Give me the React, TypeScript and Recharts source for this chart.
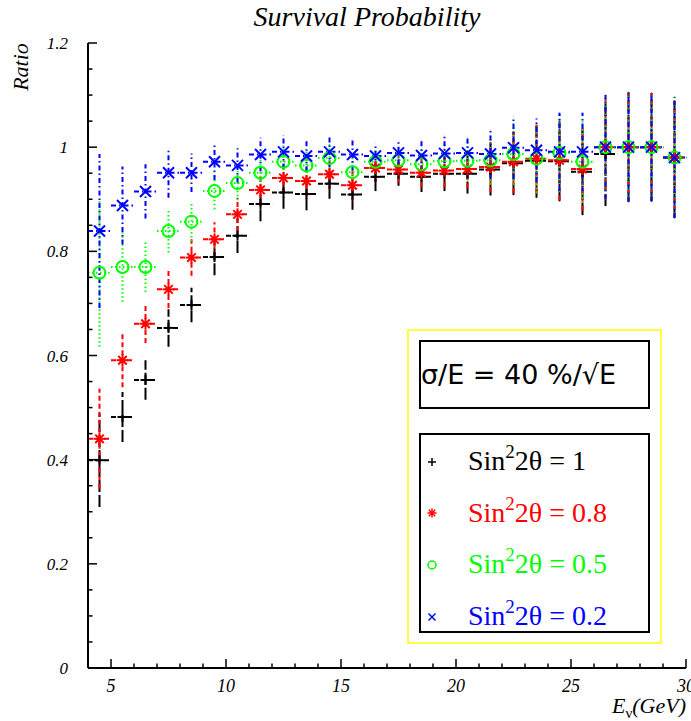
import React from 'react';
import { ScatterChart, Scatter, XAxis, YAxis, ErrorBar } from 'recharts';

// bin centres (GeV) and half bin width
const energies = [4.5, 5.5, 6.5, 7.5, 8.5, 9.5, 10.5, 11.5, 12.5, 13.5, 14.5, 15.5, 16.5, 17.5, 18.5, 19.5, 20.5, 21.5, 22.5, 23.5, 24.5, 25.5, 26.5, 27.5, 28.5, 29.5];
const binHalfWidth = 0.5;

// ratio values
const ratioSin1 = [0.399, 0.482, 0.553, 0.653, 0.697, 0.789, 0.830, 0.891, 0.913, 0.910, 0.930, 0.909, 0.943, 0.949, 0.943, 0.949, 0.949, 0.957, 0.969, 0.974, 0.973, 0.953, 0.987, 1.0, 1.0, 0.980];
const ratioSin08 = [0.440, 0.591, 0.661, 0.727, 0.788, 0.823, 0.871, 0.918, 0.941, 0.935, 0.948, 0.927, 0.960, 0.957, 0.951, 0.955, 0.958, 0.962, 0.972, 0.978, 0.975, 0.958, 1.0, 1.0, 1.0, 0.980];
const ratioSin05 = [0.759, 0.770, 0.770, 0.839, 0.857, 0.916, 0.931, 0.951, 0.972, 0.965, 0.979, 0.952, 0.972, 0.975, 0.967, 0.973, 0.974, 0.975, 0.987, 0.978, 0.989, 0.972, 1.0, 1.0, 1.0, 0.980];
const ratioSin02 = [0.839, 0.888, 0.915, 0.951, 0.951, 0.972, 0.965, 0.986, 0.991, 0.983, 0.991, 0.986, 0.983, 0.989, 0.984, 0.988, 0.989, 0.987, 0.999, 0.994, 0.991, 0.991, 1.0, 1.0, 1.0, 0.980];

// vertical errors
const errSin1 = [0.090, 0.048, 0.038, 0.036, 0.033, 0.035, 0.033, 0.033, 0.031, 0.031, 0.029, 0.029, 0.027, 0.023, 0.029, 0.033, 0.038, 0.050, 0.061, 0.071, 0.077, 0.083, 0.100, 0.105, 0.104, 0.116];
const errSin08 = [0.096, 0.052, 0.037, 0.036, 0.035, 0.033, 0.032, 0.031, 0.030, 0.030, 0.029, 0.029, 0.027, 0.025, 0.028, 0.032, 0.037, 0.048, 0.060, 0.068, 0.077, 0.080, 0.100, 0.105, 0.104, 0.116];
const errSin05 = [0.142, 0.067, 0.048, 0.041, 0.038, 0.035, 0.033, 0.032, 0.031, 0.030, 0.030, 0.029, 0.027, 0.025, 0.028, 0.032, 0.036, 0.047, 0.059, 0.066, 0.075, 0.078, 0.100, 0.105, 0.104, 0.116];
const errSin02 = [0.148, 0.075, 0.052, 0.048, 0.037, 0.035, 0.033, 0.032, 0.032, 0.029, 0.030, 0.031, 0.024, 0.022, 0.030, 0.034, 0.030, 0.046, 0.060, 0.061, 0.075, 0.075, 0.100, 0.105, 0.104, 0.116];

// axis ticks
const xTicks = [4, 5, 6, 7, 8, 9, 10, 11, 12, 13, 14, 15, 16, 17, 18, 19, 20, 21, 22, 23, 24, 25, 26, 27, 28, 29, 30];
const xMajor = [5, 10, 15, 20, 25, 30];
const yTicks = [0, 0.05, 0.1, 0.15, 0.2, 0.25, 0.3, 0.35, 0.4, 0.45, 0.5, 0.55, 0.6, 0.65, 0.7, 0.75, 0.8, 0.85, 0.9, 0.95, 1, 1.05, 1.1, 1.15, 1.2];
const yMajor = [0, 0.2, 0.4, 0.6, 0.8, 1, 1.2];

const makeRows = (ratio: number[], err: number[]) =>
  energies.map((e, i) => ({ x: e, y: ratio[i], ex: binHalfWidth, ey: err[i] }));

const rows1 = makeRows(ratioSin1, errSin1);
const rows08 = makeRows(ratioSin08, errSin08);
const rows05 = makeRows(ratioSin05, errSin05);
const rows02 = makeRows(ratioSin02, errSin02);

const serif = '"Liberation Serif", "Times New Roman", serif';

const isMajor = (list: number[], v: number) => list.some((m) => Math.abs(m - v) < 1e-6);

const YTick = (props: any) => {
  const { x, y, payload } = props;
  const major = isMajor(yMajor, payload.value);
  return (
    <g>
      <line x1={x} x2={x + (major ? 9 : 4.5)} y1={y} y2={y} stroke="#000" strokeWidth={1.5} />
      {major && (
        <text x={x - 20} y={y + 6} textAnchor="end" fontFamily={serif} fontStyle="italic" fontSize={17} fill="#000">
          {payload.value}
        </text>
      )}
    </g>
  );
};

const XTick = (props: any) => {
  const { x, y, payload } = props;
  const major = isMajor(xMajor, payload.value);
  return (
    <g>
      <line x1={x} x2={x} y1={y} y2={y - (major ? 9 : 4.5)} stroke="#000" strokeWidth={1.5} />
      {major && (
        <text x={x} y={y + 24} textAnchor="middle" fontFamily={serif} fontStyle="italic" fontSize={18} fill="#000">
          {payload.value}
        </text>
      )}
    </g>
  );
};

const PlusMark = ({ cx, cy, s = 5, w = 2 }: any) => (
  <g stroke="#000" strokeWidth={w}>
    <line x1={cx - s} x2={cx + s} y1={cy} y2={cy} />
    <line x1={cx} x2={cx} y1={cy - s} y2={cy + s} />
  </g>
);

const StarMark = ({ cx, cy, s = 6, w = 2 }: any) => {
  const d = s * 0.707;
  return (
    <g stroke="#ff0000" strokeWidth={w}>
      <line x1={cx - s} x2={cx + s} y1={cy} y2={cy} />
      <line x1={cx} x2={cx} y1={cy - s} y2={cy + s} />
      <line x1={cx - d} x2={cx + d} y1={cy - d} y2={cy + d} />
      <line x1={cx - d} x2={cx + d} y1={cy + d} y2={cy - d} />
    </g>
  );
};

const CircleMark = ({ cx, cy, s = 6, w = 2 }: any) => (
  <circle cx={cx} cy={cy} r={s} fill="none" stroke="#00ff00" strokeWidth={w} />
);

const CrossMark = ({ cx, cy, s = 5.5, w = 2 }: any) => (
  <g stroke="#0000ff" strokeWidth={w}>
    <line x1={cx - s} x2={cx + s} y1={cy - s} y2={cy + s} />
    <line x1={cx - s} x2={cx + s} y1={cy + s} y2={cy - s} />
  </g>
);

const SinLabel = ({ y, color, value }: { y: number; color: string; value: string }) => (
  <text x={468} y={y} fontFamily={serif} fontSize={28} fill={color}>
    Sin
    <tspan dy={-12} fontSize={19}>2</tspan>
    <tspan dy={12}>{`2θ = ${value}`}</tspan>
  </text>
);

export default function App() {
  return (
    <div style={{ position: 'absolute', left: 0, top: 0, width: 691, height: 721, overflow: 'hidden', background: '#fff' }}>
      <ScatterChart width={691} height={721} margin={{ top: 43, right: 5, left: 28, bottom: 23 }}>
        <XAxis
          type="number"
          dataKey="x"
          domain={[4, 30]}
          ticks={xTicks}
          interval={0}
          height={30}
          tickSize={0}
          tickMargin={0}
          tickLine={false}
          tick={XTick}
          axisLine={{ stroke: '#000', strokeWidth: 2 }}
          allowDataOverflow
        />
        <XAxis xAxisId="top" orientation="top" type="number" domain={[4, 30]} height={0} tick={false} tickLine={false} axisLine={{ stroke: '#000', strokeWidth: 2 }} />
        <YAxis
          type="number"
          dataKey="y"
          domain={[0, 1.2]}
          ticks={yTicks}
          interval={0}
          width={60}
          tickSize={0}
          tickMargin={0}
          tickLine={false}
          tick={YTick}
          axisLine={{ stroke: '#000', strokeWidth: 2 }}
          allowDataOverflow
        />
        <YAxis yAxisId="right" orientation="right" type="number" domain={[0, 1.2]} width={0} tick={false} tickLine={false} axisLine={{ stroke: '#000', strokeWidth: 1.5 }} />

        <Scatter data={rows1} dataKey="y" isAnimationActive={false} shape={(p: any) => <PlusMark cx={p.cx} cy={p.cy} />}>
          <ErrorBar dataKey="ex" direction="x" width={0} stroke="#000" strokeWidth={2} strokeDasharray="5 3" isAnimationActive={false} />
          <ErrorBar dataKey="ey" direction="y" width={0} stroke="#000" strokeWidth={2} strokeDasharray="12 3" isAnimationActive={false} />
        </Scatter>
        <Scatter data={rows08} dataKey="y" isAnimationActive={false} shape={(p: any) => <StarMark cx={p.cx} cy={p.cy} />}>
          <ErrorBar dataKey="ex" direction="x" width={0} stroke="#ff0000" strokeWidth={2} strokeDasharray="5 3" isAnimationActive={false} />
          <ErrorBar dataKey="ey" direction="y" width={0} stroke="#ff0000" strokeWidth={2} strokeDasharray="5 3" isAnimationActive={false} />
        </Scatter>
        <Scatter data={rows05} dataKey="y" isAnimationActive={false} shape={(p: any) => <CircleMark cx={p.cx} cy={p.cy} />}>
          <ErrorBar dataKey="ex" direction="x" width={0} stroke="#00ff00" strokeWidth={2} strokeDasharray="1.5 2.5" isAnimationActive={false} />
          <ErrorBar dataKey="ey" direction="y" width={0} stroke="#00ff00" strokeWidth={2} strokeDasharray="1.5 2.5" isAnimationActive={false} />
        </Scatter>
        <Scatter data={rows02} dataKey="y" isAnimationActive={false} shape={(p: any) => <CrossMark cx={p.cx} cy={p.cy} />}>
          <ErrorBar dataKey="ex" direction="x" width={0} stroke="#0000ff" strokeWidth={2} strokeDasharray="5 3 1.5 3" isAnimationActive={false} />
          <ErrorBar dataKey="ey" direction="y" width={0} stroke="#0000ff" strokeWidth={2} strokeDasharray="5 3 1.5 3" isAnimationActive={false} />
        </Scatter>
      </ScatterChart>

      <svg width={691} height={721} style={{ position: 'absolute', left: 0, top: 0, pointerEvents: 'none' }}>
        <text x={367} y={26} textAnchor="middle" fontFamily={serif} fontStyle="italic" fontSize={28} fill="#000">
          Survival Probability
        </text>
        <text x={28} y={67} transform="rotate(-90 28 67)" textAnchor="middle" fontFamily={serif} fontStyle="italic" fontSize={22} fill="#000">
          Ratio
        </text>
        <text x={686} y={713} textAnchor="end" fontFamily={serif} fontStyle="italic" fontSize={22} fill="#000">
          E
          <tspan dy={5} fontSize={15} fontStyle="normal">ν</tspan>
          <tspan dy={-5}>(GeV)</tspan>
        </text>

        {/* legend */}
        <rect x={408} y={330} width={253} height={313} fill="none" stroke="#ffff00" strokeWidth={1.5} />
        <rect x={420} y={341} width={229} height={67} fill="none" stroke="#000" strokeWidth={2} />
        <text x={421} y={384} fontFamily='"DejaVu Sans", sans-serif' fontSize={27} fill="#000">
          σ/E = 40 %/√E
        </text>
        <rect x={420} y={434} width={229} height={198} fill="none" stroke="#000" strokeWidth={2} />

        <PlusMark cx={432} cy={462} s={4} w={1.5} />
        <SinLabel y={470} color="#000" value="1" />
        <StarMark cx={432} cy={513} s={4.5} w={1.5} />
        <SinLabel y={522} color="#ff0000" value="0.8" />
        <CircleMark cx={432} cy={565} s={4} w={1.5} />
        <SinLabel y={573} color="#00ff00" value="0.5" />
        <CrossMark cx={432} cy={617} s={3.5} w={1.5} />
        <SinLabel y={625} color="#0000ff" value="0.2" />
      </svg>
    </div>
  );
}
